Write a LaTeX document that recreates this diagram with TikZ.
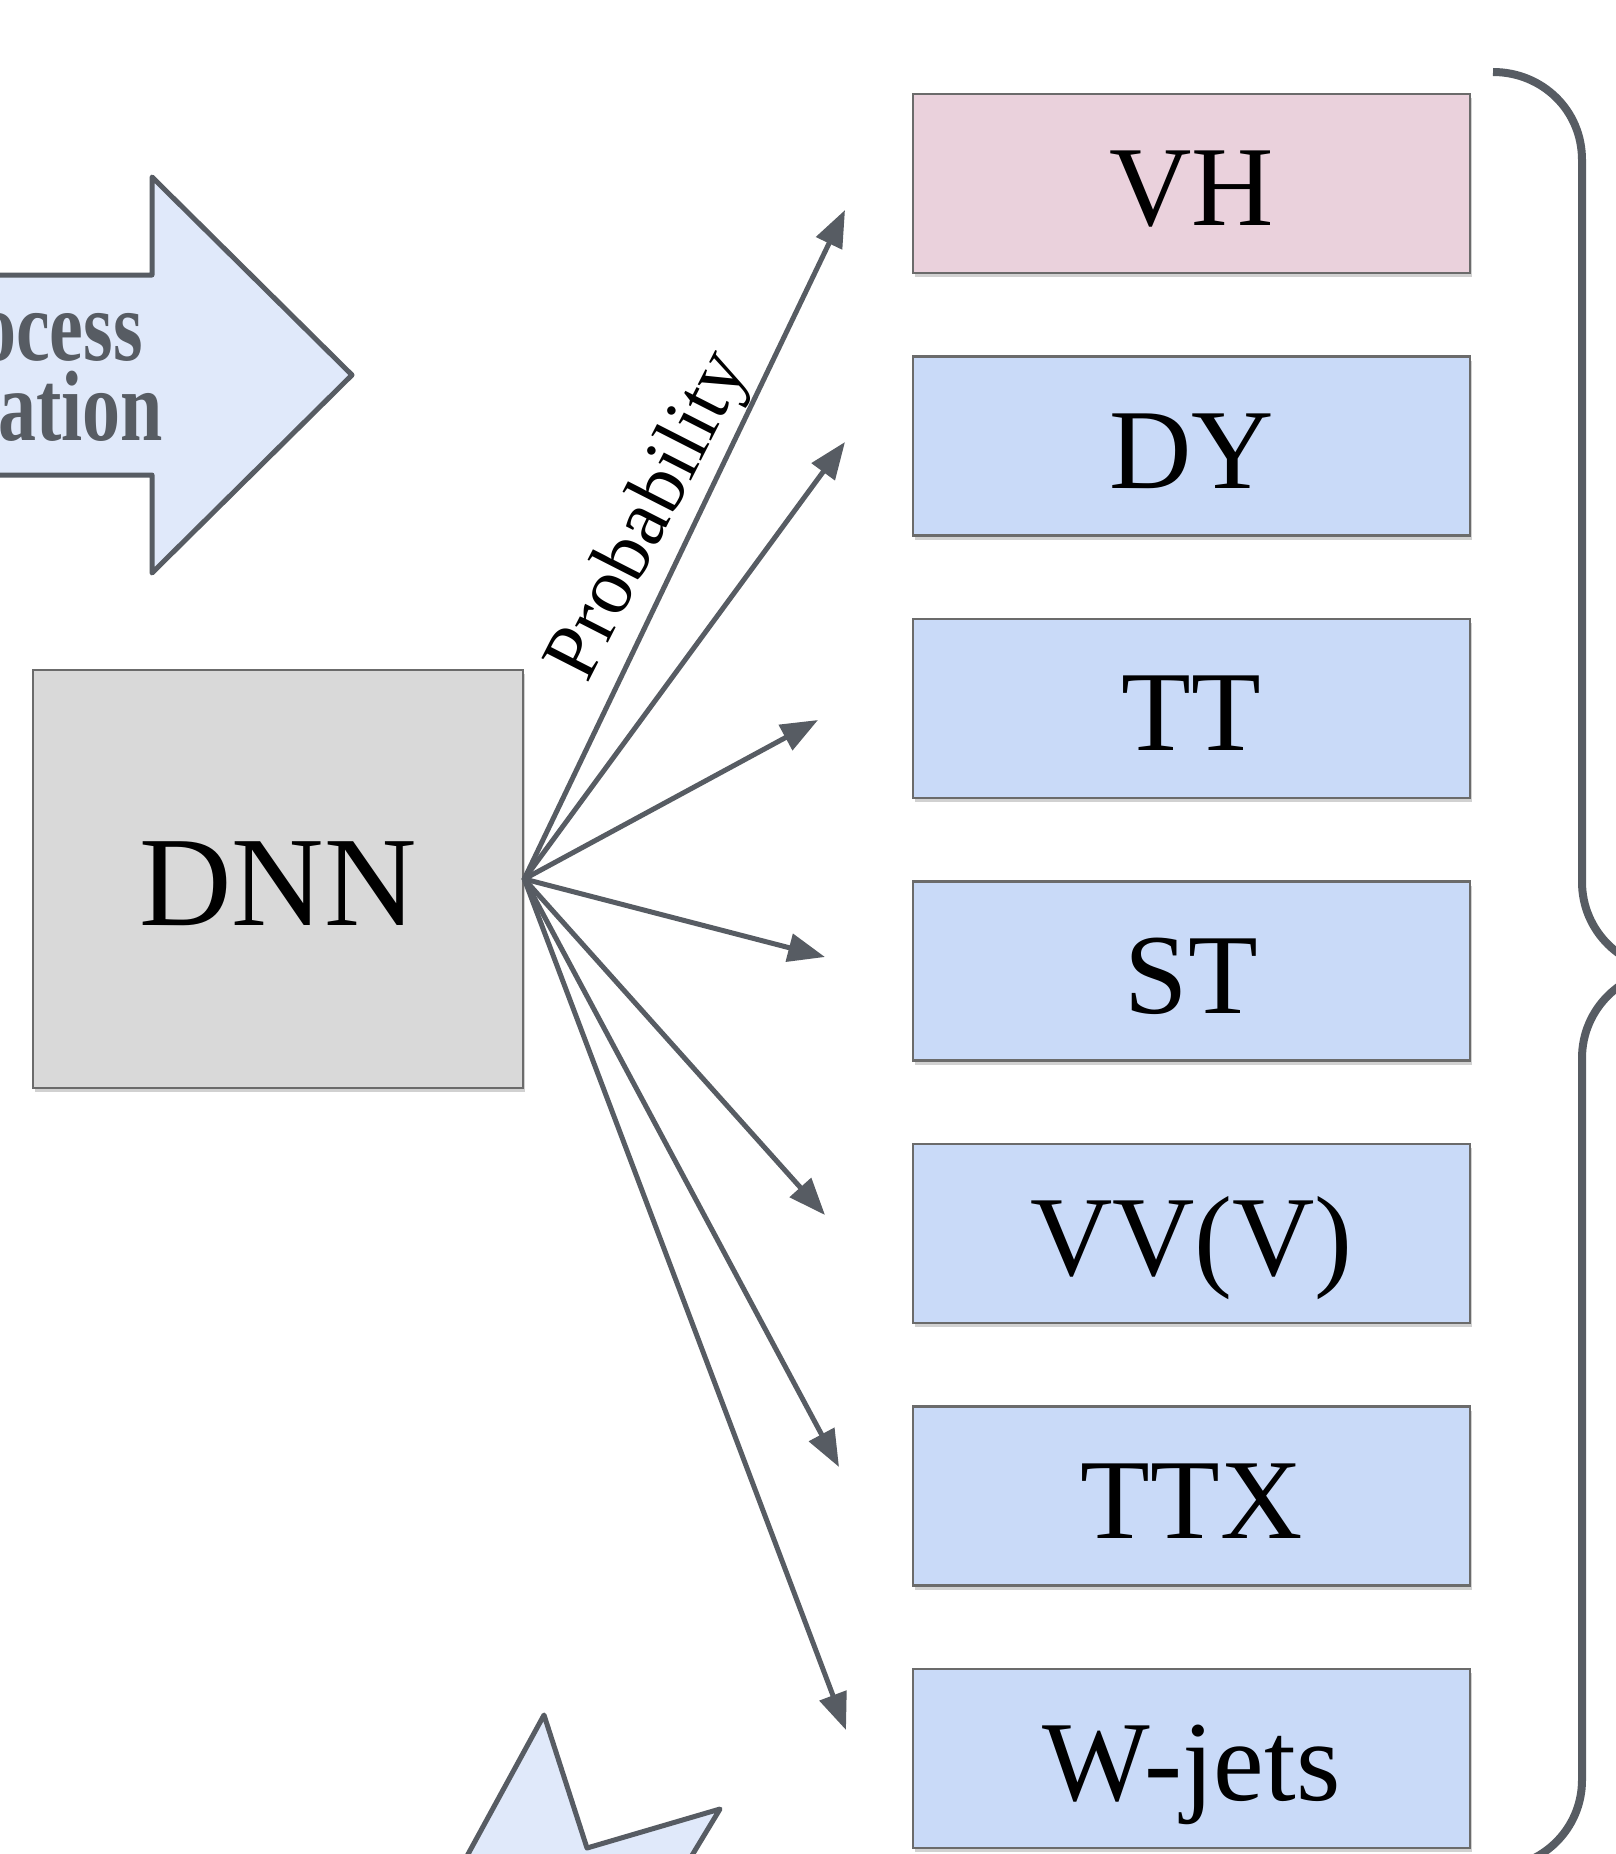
\documentclass[tikz,border=0pt]{standalone}
\usepackage{fontspec}
\setmainfont{Liberation Serif}
\usepackage{graphicx}
\usetikzlibrary{arrows.meta,shadows}
\definecolor{edgegray}{HTML}{575C63}
\definecolor{boxblue}{HTML}{C9DAF8}
\definecolor{boxpink}{HTML}{EAD1DC}
\definecolor{dnngray}{HTML}{D9D9D9}
\definecolor{shapeblue}{HTML}{E0E9FA}
\definecolor{boxedge}{HTML}{6B6B6B}
\begin{document}
\begin{tikzpicture}[x=1pt,y=-1pt,
  softshadow/.style={drop shadow={shadow xshift=2pt, shadow yshift=-4pt, fill=black, opacity=0.18}},
  classbox/.style={draw=boxedge, line width=2.5pt, fill=boxblue, minimum width=557pt,
    minimum height=179pt, inner sep=0pt, font=\fontsize{114}{120}\selectfont,
    text height=84pt, text depth=0pt, softshadow},
  dnnbox/.style={draw=boxedge, line width=2.5pt, fill=dnngray, minimum width=490pt,
    minimum height=418pt, inner sep=0pt, font=\fontsize{128}{134}\selectfont,
    text height=93pt, text depth=0pt, softshadow},
  arr/.style={draw=edgegray, line width=5pt, line cap=round, -{Triangle[length=37pt,width=28pt]}},
  bigshape/.style={draw=edgegray, line width=5pt, fill=shapeblue, line join=round},
  shapetext/.style={text=edgegray, inner sep=0pt, anchor=base east, font=\bfseries\fontsize{100}{100}\selectfont}
]
\useasboundingbox (0,0) rectangle (1615,1854);
\fill[white] (0,0) rectangle (1615,1854);

% big arrow (partly outside the picture)
\draw[bigshape] (-60,275) -- (152,275) -- (152,177) -- (352,375) -- (152,573) -- (152,475) -- (-60,475) -- cycle;
\node[shapetext] (t1) at (143,360) {\scalebox{0.76}[1]{ocess}};
\node[shapetext] (t2) at (163,440) {\scalebox{0.76}[1]{ation}};

% star (partly outside the picture)
\draw[bigshape] (443,1900) -- (544,1715) -- (587,1848) -- (720,1809) -- (665,1900) -- cycle;

% DNN
\node[dnnbox] (dnn) at (278,879) {DNN};

% class boxes
\node[classbox, fill=boxpink] (vh) at (1191.5,183.5) {VH};
\node[classbox] (dy)  at (1191.5,446) {DY};
\node[classbox] (tt)  at (1191.5,708.5) {TT};
\node[classbox] (st)  at (1191.5,971) {ST};
\node[classbox] (vv)  at (1191.5,1233.5) {VV(V)};
\node[classbox] (ttx) at (1191.5,1496) {TTX};
\node[classbox] (wj)  at (1191.5,1758.5) {W-jets};

% arrow tips
\coordinate (pvh) at (845,210);
\coordinate (pdy) at (845,442);
\coordinate (ptt) at (818,720);
\coordinate (pst) at (825,957);
\coordinate (pvv) at (825,1215);
\coordinate (pttx) at (839,1467);
\coordinate (pwj) at (846,1730);

\foreach \p in {pvh,pdy,ptt,pst,pvv,pttx,pwj}
  \draw[arr] (dnn.east) -- (\p);

\node[rotate=63, inner sep=0pt, font=\fontsize{80}{84}\selectfont] (prob) at (651,517) {Probability};

% brace
\draw[edgegray, line width=8pt]
  (1493,72) .. controls (1542,72) and (1582,110) .. (1582,160)
  -- (1582,882) .. controls (1582,931) and (1622,970) .. (1670,970)
  .. controls (1622,970) and (1582,1009) .. (1582,1058)
  -- (1582,1780) .. controls (1582,1829) and (1542,1868) .. (1493,1868);
\end{tikzpicture}
\end{document}
